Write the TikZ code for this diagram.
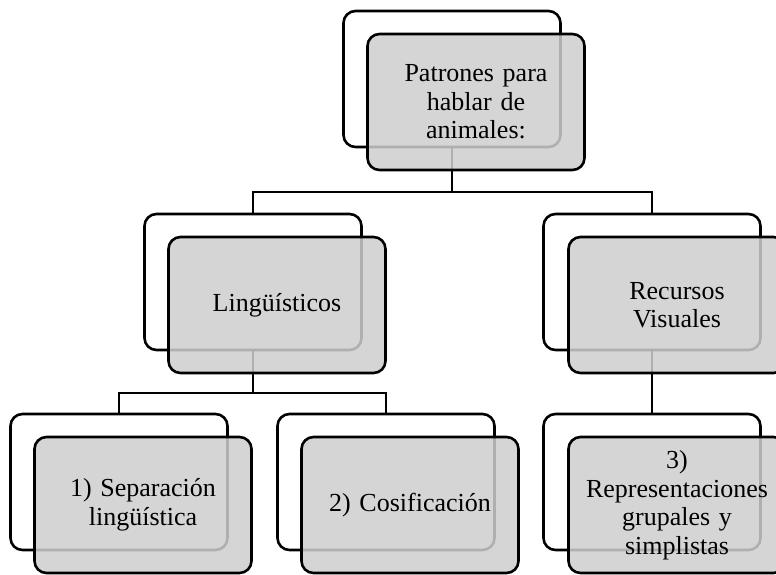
\documentclass[tikz,border=0pt]{standalone}
\usepackage{fontspec}
\setmainfont{Liberation Serif}
\definecolor{boxgray}{RGB}{206,206,206}
\tikzset{
  backbox/.style={draw, line width=2.6pt, rounded corners=12pt, fill=white,
    minimum width=217pt, minimum height=136pt},
  frontbox/.style={backbox, fill=boxgray, fill opacity=0.85, text opacity=1,
    text width=205pt, align=center, font=\fontsize{26}{28.5}\selectfont},
  link/.style={line width=2.6pt}
}
\begin{document}
\begin{tikzpicture}[x=1pt, y=-1pt]
    \useasboundingbox (0,0) rectangle (776,574);
    % back boxes
    \node[backbox] (pat)  at (452,79)  {};
    \node[backbox] (ling) at (253,282) {};
    \node[backbox] (recu) at (652,282) {};
    \node[backbox] (sep)  at (119,482) {};
    \node[backbox] (cosi) at (386,482) {};
    \node[backbox] (repr) at (652,482) {};
    % links
    \coordinate (pat-b)  at (452,192);
    \coordinate (ling-b) at (253,393);
    \draw[link] (pat.south) -- (pat-b) -| (ling.north);
    \draw[link] (pat-b) -| (recu.north);
    \draw[link] (ling.south) -- (ling-b) -| (sep.north);
    \draw[link] (ling-b) -| (cosi.north);
    \draw[link] (recu.south) -- (repr.north);
    % front boxes
    \node[frontbox] (pat-t)  at ([shift={(24,23)}]pat)  {Patrones para\\hablar de\\animales:};
    \node[frontbox] (ling-t) at ([shift={(24,23)}]ling) {Lingüísticos};
    \node[frontbox] (recu-t) at ([shift={(25,23)}]recu) {Recursos\\Visuales};
    \node[frontbox] (sep-t)  at ([shift={(24,23)}]sep)  {1) Separación\\lingüística};
    \node[frontbox] (cosi-t) at ([shift={(24,23)}]cosi) {2) Cosificación};
    \node[frontbox] (repr-t) at ([shift={(25,23)}]repr) {3)\\Representaciones\\grupales y\\simplistas};
\end{tikzpicture}
\end{document}
